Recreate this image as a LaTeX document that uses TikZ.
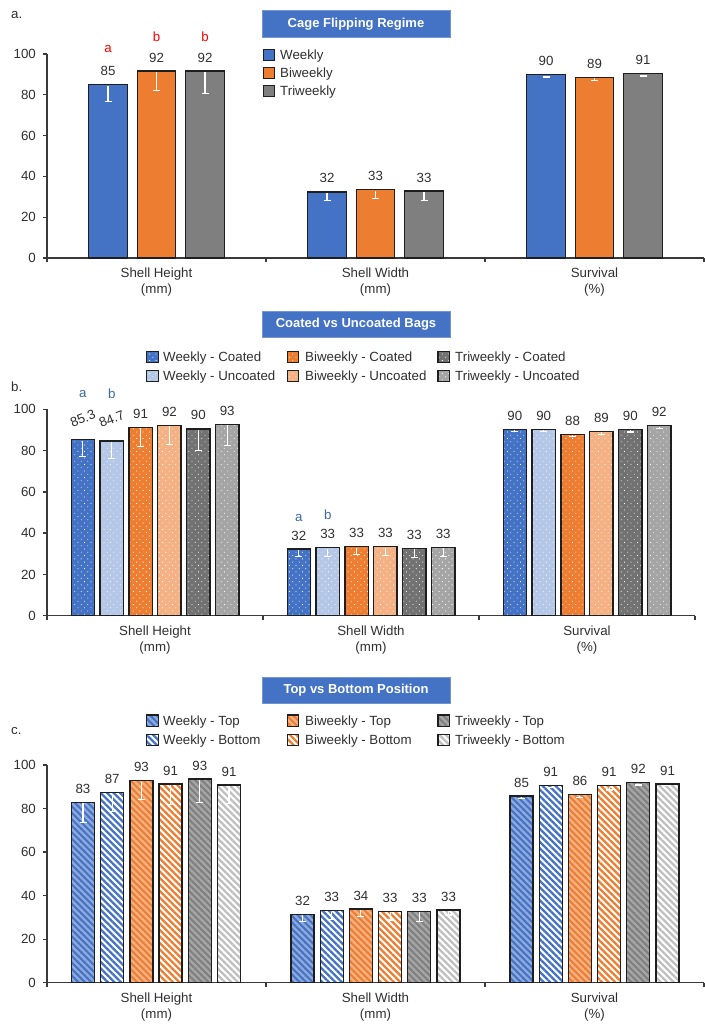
\documentclass[tikz,border=0pt]{standalone}
\usepackage{fontspec}
\setmainfont{Liberation Sans}
\usetikzlibrary{patterns.meta}
\definecolor{cBlue}{HTML}{4472C4}
\definecolor{cOrange}{HTML}{ED7D31}
\definecolor{cGray}{HTML}{7F7F7F}
\definecolor{cBlueL}{HTML}{B4C7E7}
\definecolor{cOrangeL}{HTML}{F4B183}
\definecolor{cGrayD}{HTML}{727272}
\definecolor{cGrayL}{HTML}{A5A5A5}
\definecolor{sBlue}{HTML}{8FAADC}
\definecolor{sOrange}{HTML}{F4B183}
\definecolor{sGray}{HTML}{A6A6A6}
\definecolor{sGrayB}{HTML}{BFBFBF}
\definecolor{txtc}{HTML}{303030}
\definecolor{axc}{HTML}{3A3A3A}
\definecolor{barc}{HTML}{1E1E1E}
\definecolor{letB}{HTML}{3A6AA6}
\definecolor{letR}{HTML}{FF0000}
\tikzset{
  txt/.style={text=txtc, font=\fontsize{13.3}{16}\selectfont, inner sep=0pt},
  ltxt/.style={txt, anchor=west, text height=9.5pt, text depth=0pt},
  cat/.style={txt, align=center},
  barline/.style={draw=barc, line width=1.3pt},
  errbar/.style={draw=white, line width=1.1pt},
  axisl/.style={draw=axc, line width=1.3pt},
  titlebox/.style={fill=cBlue, draw=cBlue!75!white, line width=0.8pt, text=white,
    font=\fontsize{13}{15}\selectfont\bfseries, minimum width=188pt, minimum height=26.5pt, inner sep=0pt},
  legsq/.style={draw=barc, line width=1.1pt, minimum size=11.5pt, inner sep=0pt},
  stripes/.style={pattern={Lines[angle=-45,distance=4.6pt,line width=2.3pt]}},
  dotpat/.style={pattern={Dots[angle=45,distance=4.6pt,radius=0.55pt]}, pattern color=white},
}
\newcommand\panelaxes[4]{%
  \draw[axisl] (47,100) -- (47,0) -- (#2,0);
  \foreach \tk in {0,20,...,100}{\draw[axisl] (43,\tk) -- (47,\tk);
    \node[txt, anchor=east, name=#1y\tk] at (36,\tk) {\tk};}
  \foreach \xx in {47,#3,#4,#2}{\draw[axisl] (\xx,0) -- ++(0pt,-4pt);}
}
\newcommand\catlabels[4]{%
  \node[cat, yshift=-24pt, name=#1c1] at (#2,0) {Shell Height\\(mm)};
  \node[cat, yshift=-24pt, name=#1c2] at (#3,0) {Shell Width\\(mm)};
  \node[cat, yshift=-24pt, name=#1c3] at (#4,0) {Survival\\(\%)};
}
\begin{document}
\begin{tikzpicture}[x=1pt,y=-1pt]
\fill[white] (0,0) rectangle (704,1024);
\useasboundingbox (0,0) rectangle (704,1024);

% ---------------- Panel a ----------------
\node[txt, anchor=west] (pa) at (11,15) {a.};
\node[titlebox] (ta) at (356,24) {Cage Flipping Regime};
\node[legsq, fill=cBlue] (la1) at (269,55) {};
\node[ltxt] (lta1) at (280,55) {Weekly};
\node[legsq, fill=cOrange] (la2) at (269,73) {};
\node[ltxt] (lta2) at (280,73) {Biweekly};
\node[legsq, fill=cGray] (la3) at (269,91) {};
\node[ltxt] (lta3) at (280,91) {Triweekly};

\begin{scope}[shift={(0,258)}, y=2.04pt]
  \panelaxes{a}{704}{266}{485}
  \foreach \cx/\v/\e/\lab/\fc [count=\i] in {
    108/85/76.5/85/cBlue, 156.5/91.7/82/92/cOrange, 205/91.7/80.7/92/cGray,
    327/32.4/28.4/32/cBlue, 375.5/33.5/29.2/33/cOrange, 424/32.8/28.4/33/cGray,
    546/89.9/88.7/90/cBlue, 594.5/88.6/87.1/89/cOrange, 643/90.4/89.2/91/cGray}{
    \path[fill=\fc, barline] ({\cx-19.25},0) rectangle ({\cx+19.25},\v);
    \draw[errbar] ([yshift=-1pt]\cx,\v) -- (\cx,\e) ({\cx-3.5},\e) -- ({\cx+3.5},\e);
    \node[txt, yshift=13.5pt, name=av\i] at (\cx,\v) {\lab};
  }
  \node[txt, text=letR, yshift=35.4pt] (aa1) at (108,85) {a};
  \node[txt, text=letR, yshift=33.7pt] (ab1) at (156.5,91.7) {b};
  \node[txt, text=letR, yshift=33.7pt] (ab2) at (205,91.7) {b};
  \catlabels{a}{156.5}{375.5}{594.5}
\end{scope}

% ---------------- Panel b ----------------
\node[txt, anchor=west] (pb) at (11,387) {b.};
\node[titlebox] (tb) at (356,324.5) {Coated vs Uncoated Bags};
\node[legsq, preaction={fill=cBlue}, dotpat] (lb1) at (152.5,357) {};
\node[ltxt] (ltb1) at (163,357) {Weekly - Coated};
\node[legsq, preaction={fill=cBlueL}, dotpat] (lb2) at (152.5,376) {};
\node[ltxt] (ltb2) at (163,376) {Weekly - Uncoated};
\node[legsq, preaction={fill=cOrange}, dotpat] (lb3) at (293,357) {};
\node[ltxt] (ltb3) at (305,357) {Biweekly - Coated};
\node[legsq, preaction={fill=cOrangeL}, dotpat] (lb4) at (293,376) {};
\node[ltxt] (ltb4) at (305,376) {Biweekly - Uncoated};
\node[legsq, preaction={fill=cGrayD}, dotpat] (lb5) at (443.7,357) {};
\node[ltxt] (ltb5) at (455,357) {Triweekly - Coated};
\node[legsq, preaction={fill=cGrayL}, dotpat] (lb6) at (443.7,376) {};
\node[ltxt] (ltb6) at (455,376) {Triweekly - Uncoated};

\begin{scope}[shift={(0,615.7)}, y=2.064pt]
  \panelaxes{b}{695}{263}{479}
  \foreach \cx/\v/\e/\lab/\fc/\rot/\ys [count=\i] in {
    82.8/85.3/77/85.3/cBlue/22/21, 111.7/84.7/76/84.7/cBlueL/22/22,
    140.6/91.3/81.8/91/cOrange/0/13.5, 169.4/92.2/83/92/cOrangeL/0/13.5,
    198.3/90.5/80/90/cGrayD/0/13.5, 227.2/92.7/82.6/93/cGrayL/0/13.5,
    298.8/32.3/28.7/32/cBlue/0/13.5, 327.7/32.9/28.7/33/cBlueL/0/13.5,
    356.6/33.4/29.8/33/cOrange/0/13.5, 385.4/33.4/29.2/33/cOrangeL/0/13.5,
    414.3/32.7/28.4/33/cGrayD/0/13.5, 443.2/33.1/28.7/33/cGrayL/0/13.5,
    514.8/90.3/89.1/90/cBlue/0/13.5, 543.7/90.3/89.1/90/cBlueL/0/13.5,
    572.6/87.9/86.7/88/cOrange/0/13.5, 601.4/89.4/87.9/89/cOrangeL/0/13.5,
    630.3/90.3/89.0/90/cGrayD/0/13.5, 659.2/92.0/90.9/92/cGrayL/0/13.5}{
    \path[preaction={fill=\fc}, dotpat, barline] ({\cx-11.65},0) rectangle ({\cx+11.65},\v);
    \draw[errbar] ([yshift=-1pt]\cx,\v) -- (\cx,\e) ({\cx-3.5},\e) -- ({\cx+3.5},\e);
    \node[txt, yshift=\ys pt, rotate=\rot, name=bv\i] at (\cx,\v) {\lab};
  }
  \node[txt, text=letB, yshift=45.5pt] (ba1) at (82.8,85.3) {a};
  \node[txt, text=letB, yshift=47.5pt] (bb1) at (111.7,84.7) {b};
  \node[txt, text=letB, yshift=31.5pt] (ba2) at (298.8,32.3) {a};
  \node[txt, text=letB, yshift=33pt] (bb2) at (327.7,32.9) {b};
  \catlabels{b}{155}{371}{587}
\end{scope}

% ---------------- Panel c ----------------
\node[txt, anchor=west] (pc) at (11,731) {c.};
\node[titlebox] (tc) at (356,690.5) {Top vs Bottom Position};
\node[legsq, preaction={fill=cBlue}, stripes, pattern color=sBlue] (lc1) at (152.5,720.7) {};
\node[ltxt] (ltc1) at (163,720.7) {Weekly - Top};
\node[legsq, preaction={fill=white}, stripes, pattern color=cBlue] (lc2) at (152.5,740) {};
\node[ltxt] (ltc2) at (163,740) {Weekly - Bottom};
\node[legsq, preaction={fill=cOrange}, stripes, pattern color=sOrange] (lc3) at (293,720.7) {};
\node[ltxt] (ltc3) at (305,720.7) {Biweekly - Top};
\node[legsq, preaction={fill=white}, stripes, pattern color=cOrange] (lc4) at (293,740) {};
\node[ltxt] (ltc4) at (305,740) {Biweekly - Bottom};
\node[legsq, preaction={fill=cGray}, stripes, pattern color=sGray] (lc5) at (443.7,720.7) {};
\node[ltxt] (ltc5) at (455,720.7) {Triweekly - Top};
\node[legsq, preaction={fill=white}, stripes, pattern color=sGrayB] (lc6) at (443.7,740) {};
\node[ltxt] (ltc6) at (455,740) {Triweekly - Bottom};

\begin{scope}[shift={(0,982.7)}, y=2.177pt]
  \panelaxes{c}{704}{266}{485}
  \foreach \cx/\v/\e/\lab/\fc/\sc [count=\i] in {
    83/82.9/73.5/83/cBlue/sBlue, 112.2/87.3/78.5/87/white/cBlue,
    141.4/92.8/84.2/93/cOrange/sOrange, 170.6/91.3/82/91/white/cOrange,
    199.8/93.6/82.9/93/cGray/sGray, 229/90.8/82.4/91/white/sGrayB,
    302.5/31.4/28/32/cBlue/sBlue, 331.7/33.1/29.1/33/white/cBlue,
    360.9/33.9/30.3/34/cOrange/sOrange, 390.1/32.8/28.8/33/white/cOrange,
    419.3/32.8/28.3/33/cGray/sGray, 448.5/33.4/31.1/33/white/sGrayB,
    521.5/85.8/84.7/85/cBlue/sBlue, 550.7/90.5/89.8/91/white/cBlue,
    579.9/86.4/85.2/86/cOrange/sOrange, 609.1/90.5/88.5/91/white/cOrange,
    638.3/91.9/90.8/92/cGray/sGray, 667.5/91.3/90.7/91/white/sGrayB}{
    \path[preaction={fill=\fc}, stripes, pattern color=\sc, barline] ({\cx-11.5},0) rectangle ({\cx+11.5},\v);
    \draw[errbar] ([yshift=-1pt]\cx,\v) -- (\cx,\e) ({\cx-3.5},\e) -- ({\cx+3.5},\e);
    \node[txt, yshift=13.3pt, name=cv\i] at (\cx,\v) {\lab};
  }
  \catlabels{c}{156.5}{375.5}{594.5}
\end{scope}
\end{tikzpicture}
\end{document}
